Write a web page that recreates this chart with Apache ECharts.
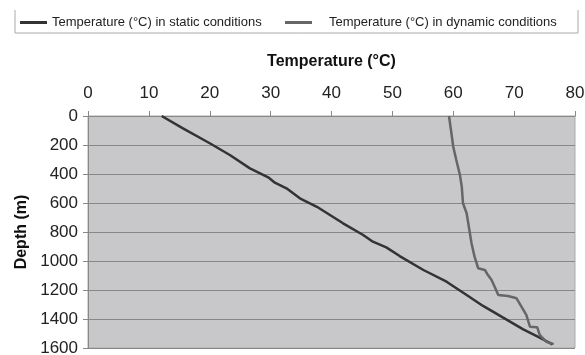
<!DOCTYPE html>
<html><head><meta charset="utf-8">
<script src="https://cdn.jsdelivr.net/npm/echarts@6/dist/echarts.min.js"></script>
<style>html,body{margin:0;padding:0;background:#fff}#c{width:585px;height:355px}</style>
</head><body><div id="c"></div>
<script>
const xTicks = [0, 10, 20, 30, 40, 50, 60, 70, 80];
const yTicks = [0, 200, 400, 600, 800, 1000, 1200, 1400, 1600];
const seriesNames = ["Temperature (°C) in static conditions", "Temperature (°C) in dynamic conditions"];
const staticDepth = [0, 85, 188, 269, 361, 423, 460, 499, 568, 626, 740, 821, 867, 906, 966, 1062, 1143, 1234, 1310, 1391, 1471, 1529, 1575];
const staticTemp  = [12.1, 15.6, 20.0, 23.3, 26.6, 29.6, 30.7, 32.6, 34.8, 37.6, 41.9, 45.2, 46.8, 49.0, 51.2, 55.1, 58.9, 62.2, 64.9, 68.2, 71.5, 74.2, 76.3];
const dynamicDepth = [0, 119, 212, 303, 407, 488, 602, 671, 774, 878, 970, 1050, 1062, 1097, 1131, 1177, 1234, 1241, 1257, 1315, 1372, 1453, 1457, 1510, 1557, 1573];
const dynamicTemp  = [59.3, 59.7, 60.0, 60.5, 61.1, 61.4, 61.6, 62.2, 62.6, 63.0, 63.5, 64.1, 65.2, 65.7, 66.3, 66.8, 67.4, 69.0, 70.4, 71.2, 72.0, 72.6, 73.8, 74.2, 75.3, 76.5];

const pairs = (t, d) => t.map((v, i) => [v, d[i]]);
const chart = echarts.init(document.getElementById('c'), null, {renderer: 'canvas'});
const font = 'Liberation Sans, Arial, sans-serif';
chart.setOption({
  animation: false,
  textStyle: {fontFamily: font},
  graphic: [{
    type: 'polyline', silent: true,
    shape: {points: [[15, 10], [15, 33], [578, 33], [578, 10]]},
    style: {stroke: '#aaa', lineWidth: 1, fill: null}
  }],
  legend: [
    {data: [seriesNames[0]], left: 20, top: 16, padding: 0, itemWidth: 27, itemHeight: 3, icon: 'rect',
     textStyle: {fontSize: 13, color: '#222', fontFamily: font}},
    {data: [seriesNames[1]], left: 285, top: 16, padding: 0, itemWidth: 27, itemHeight: 3, icon: 'rect',
     textStyle: {fontSize: 13, color: '#222', fontFamily: font, padding: [0, 0, 0, 12]}}
  ],
  grid: {left: 88, right: 10, top: 116, height: 232, outerBoundsMode: 'none', containLabel: false,
         show: true, backgroundColor: '#c8c8ca', borderColor: '#aaa', borderWidth: 1},
  xAxis: {
    type: 'value', position: 'top', min: xTicks[0], max: xTicks[xTicks.length - 1], interval: 10,
    name: 'Temperature (°C)', nameLocation: 'middle', nameGap: 46, nameMoveOverlap: false,
    nameTextStyle: {fontSize: 16, fontWeight: 'bold', color: '#111', fontFamily: font},
    axisLine: {show: true, lineStyle: {color: '#888'}},
    axisTick: {show: true, length: 5, lineStyle: {color: '#888'}},
    axisLabel: {fontSize: 17, color: '#222', margin: 14, fontFamily: font, formatter: v => String(v)},
    splitLine: {show: false}
  },
  yAxis: {
    type: 'value', inverse: true, min: yTicks[0], max: yTicks[yTicks.length - 1], interval: 200,
    name: 'Depth (m)', nameLocation: 'middle', nameGap: 58, nameRotate: 90, nameMoveOverlap: false,
    nameTextStyle: {fontSize: 16, fontWeight: 'bold', color: '#111', fontFamily: font},
    axisLine: {show: true, lineStyle: {color: '#888'}},
    axisTick: {show: true, length: 5, lineStyle: {color: '#888'}},
    axisLabel: {fontSize: 17, color: '#222', margin: 10, fontFamily: font, formatter: v => String(v)},
    splitLine: {show: true, lineStyle: {color: '#888', width: 1}}
  },
  series: [
    {name: seriesNames[0], type: 'line', data: pairs(staticTemp, staticDepth), showSymbol: false, symbol: 'none',
     lineStyle: {color: '#333', width: 2.5}, itemStyle: {color: '#333'}},
    {name: seriesNames[1], type: 'line', data: pairs(dynamicTemp, dynamicDepth), showSymbol: false, symbol: 'none',
     lineStyle: {color: '#666', width: 2.5}, itemStyle: {color: '#666'}}
  ]
});
</script></body></html>
